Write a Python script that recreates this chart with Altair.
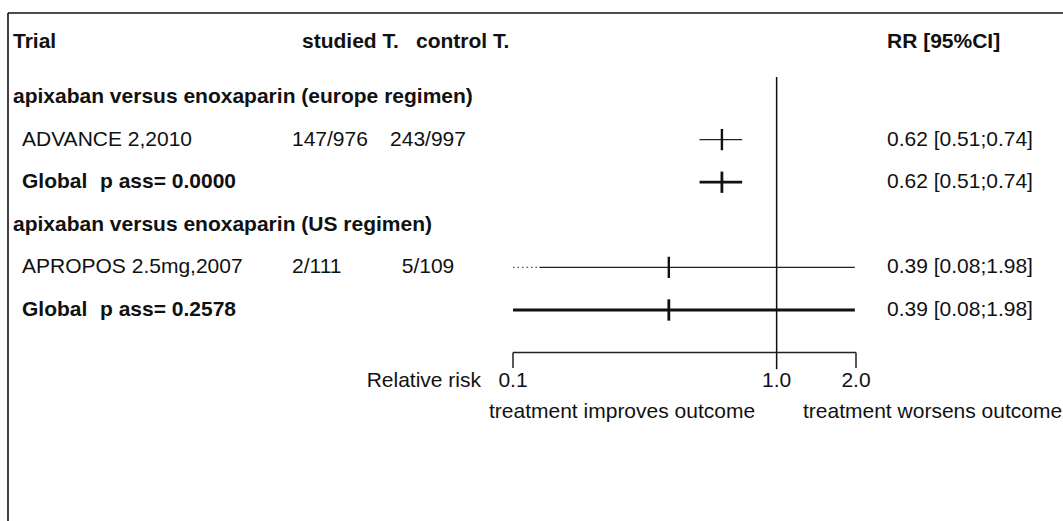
import altair as alt
import pandas as pd

# ---- study data -------------------------------------------------------------
groups = [
    "apixaban versus enoxaparin (europe regimen)",
    "apixaban versus enoxaparin (US regimen)",
]
trials = ["ADVANCE 2,2010", "APROPOS 2.5mg,2007"]
studied = ["147/976", "2/111"]
control = ["243/997", "5/109"]
rr = [0.62, 0.39]
rr_low = [0.51, 0.08]
rr_high = [0.74, 1.98]

global_rr = [0.62, 0.39]
global_low = [0.51, 0.08]
global_high = [0.74, 1.98]
p_assoc = ["0.0000", "0.2578"]

axis_ticks = [0.1, 1.0, 2.0]
axis_tick_labels = ["0.1", "1.0", "2.0"]
x_min, x_max = 0.1, 2.0
tail_end = 0.126  # dotted tail marking a CI cut at the axis limit

# ---- layout -----------------------------------------------------------------
W, H = 1063, 521
FONT = "Liberation Sans"
FS = 21
INK = "#111111"

xs = alt.Scale(type="log", domain=[x_min, x_max], range=[513, 856])
ys = alt.Scale(type="linear", domain=[0, 10], range=[54.4, 480.4])

HEADER_ROW = -0.29
AXIS_ROW = 7.0
TICKLABEL_ROW = 7.67
CAPTION_ROW = 8.39


def fmt_ci(m, lo, hi):
    return f"{m:.2f} [{lo:.2f};{hi:.2f}]"


trial_rows, global_rows, group_rows = [], [], []
for g, name in enumerate(groups):
    base = 1 + 3 * g
    group_rows.append({"row": base, "label": name})
    lo_c = max(rr_low[g], x_min)
    trial_rows.append({
        "row": base + 1,
        "trial": trials[g],
        "studied": studied[g],
        "control": control[g],
        "rr": rr[g],
        "lo": tail_end if rr_low[g] < x_min else lo_c,
        "hi": min(rr_high[g], x_max),
        "clipped": rr_low[g] < x_min,
        "ci": fmt_ci(rr[g], rr_low[g], rr_high[g]),
        "t0": base + 1 - 0.25,
        "t1": base + 1 + 0.25,
    })
    global_rows.append({
        "row": base + 2,
        "label": "Global",
        "p": f"p ass= {p_assoc[g]}",
        "rr": global_rr[g],
        "lo": max(global_low[g], x_min),
        "hi": min(global_high[g], x_max),
        "ci": fmt_ci(global_rr[g], global_low[g], global_high[g]),
        "t0": base + 2 - 0.25,
        "t1": base + 2 + 0.25,
    })

trial_df = pd.DataFrame(trial_rows)
global_df = pd.DataFrame(global_rows)
group_df = pd.DataFrame(group_rows)
tail_df = trial_df[trial_df["clipped"]].assign(t_start=x_min)
header_df = pd.DataFrame({"row": [HEADER_ROW]})
axis_df = pd.DataFrame({"v": axis_ticks, "lab": axis_tick_labels,
                        "row": AXIS_ROW, "row2": AXIS_ROW + 0.36,
                        "lrow": TICKLABEL_ROW})
ends_df = axis_df[axis_df["v"] != 1.0]
axis_line_df = pd.DataFrame({"a": [x_min], "b": [x_max], "row": [AXIS_ROW]})
ref_df = pd.DataFrame({"v": [1.0], "r0": [0.53], "r1": [7.39]})


def text_layer(df, field, x, align="left", bold=False, row_field="row"):
    return alt.Chart(df).mark_text(
        align=align, baseline="middle", font=FONT, fontSize=FS,
        fontWeight="bold" if bold else "normal", color=INK,
    ).encode(
        x=alt.value(x),
        y=alt.Y(f"{row_field}:Q", scale=ys, axis=None),
        text=alt.Text(f"{field}:N"),
    )


def const_text(label, x, row, align="left", bold=False):
    return alt.Chart(pd.DataFrame({"row": [row], "t": [label]})).mark_text(
        align=align, baseline="middle", font=FONT, fontSize=FS,
        fontWeight="bold" if bold else "normal", color=INK,
    ).encode(
        x=alt.value(x),
        y=alt.Y("row:Q", scale=ys, axis=None),
        text="t:N",
    )


# frame around the figure
frame_top = alt.Chart(header_df).mark_rule(color=INK, strokeWidth=1.6).encode(
    x=alt.value(8), x2=alt.value(W), y=alt.value(13))
frame_left = alt.Chart(header_df).mark_rule(color=INK, strokeWidth=1.6).encode(
    x=alt.value(8), y=alt.value(13), y2=alt.value(H))

headers = [
    const_text("Trial", 13, HEADER_ROW, bold=True),
    const_text("studied T.", 302, HEADER_ROW, bold=True),
    const_text("control T.", 416, HEADER_ROW, bold=True),
    const_text("RR [95%CI]", 887, HEADER_ROW, bold=True),
]

group_text = text_layer(group_df, "label", 13, bold=True)
trial_name = text_layer(trial_df, "trial", 22)
trial_st = text_layer(trial_df, "studied", 292)
trial_ct = text_layer(trial_df, "control", 428, align="center")
trial_ci = text_layer(trial_df, "ci", 887)
glob_name = text_layer(global_df, "label", 22, bold=True)
glob_p = text_layer(global_df, "p", 100, bold=True)
glob_ci = text_layer(global_df, "ci", 887)

ref_line = alt.Chart(ref_df).mark_rule(color=INK, strokeWidth=1.5).encode(
    x=alt.X("v:Q", scale=xs, axis=None),
    y=alt.Y("r0:Q", scale=ys, axis=None), y2="r1:Q")

trial_ci_line = alt.Chart(trial_df).mark_rule(color="#222222", strokeWidth=1.4).encode(
    x=alt.X("lo:Q", scale=xs, axis=None), x2="hi:Q",
    y=alt.Y("row:Q", scale=ys, axis=None))
trial_tail = alt.Chart(tail_df).mark_rule(
    color="#555555", strokeWidth=1.2, strokeDash=[1.5, 3]).encode(
    x=alt.X("t_start:Q", scale=xs, axis=None), x2="lo:Q",
    y=alt.Y("row:Q", scale=ys, axis=None))
trial_tick = alt.Chart(trial_df).mark_rule(color=INK, strokeWidth=2.4).encode(
    x=alt.X("rr:Q", scale=xs, axis=None),
    y=alt.Y("t0:Q", scale=ys, axis=None), y2="t1:Q")

glob_line = alt.Chart(global_df).mark_rule(color=INK, strokeWidth=2.8).encode(
    x=alt.X("lo:Q", scale=xs, axis=None), x2="hi:Q",
    y=alt.Y("row:Q", scale=ys, axis=None))
glob_tick = alt.Chart(global_df).mark_rule(color=INK, strokeWidth=2.8).encode(
    x=alt.X("rr:Q", scale=xs, axis=None),
    y=alt.Y("t0:Q", scale=ys, axis=None), y2="t1:Q")

# relative-risk axis
axis_line = alt.Chart(axis_line_df).mark_rule(color="#222222", strokeWidth=1.5).encode(
    x=alt.X("a:Q", scale=xs, axis=None), x2="b:Q",
    y=alt.Y("row:Q", scale=ys, axis=None))
axis_ends = alt.Chart(ends_df).mark_rule(color="#222222", strokeWidth=1.5).encode(
    x=alt.X("v:Q", scale=xs, axis=None),
    y=alt.Y("row:Q", scale=ys, axis=None), y2="row2:Q")
axis_labels = alt.Chart(axis_df).mark_text(
    align="center", baseline="middle", font=FONT, fontSize=FS, color=INK).encode(
    x=alt.X("v:Q", scale=xs, axis=None),
    y=alt.Y("lrow:Q", scale=ys, axis=None),
    text="lab:N")

captions = [
    const_text("Relative risk", 481, TICKLABEL_ROW, align="right"),
    const_text("treatment improves outcome", 489, CAPTION_ROW),
    const_text("treatment worsens outcome", 803, CAPTION_ROW),
]

chart = alt.layer(
    frame_top, frame_left, *headers,
    group_text, trial_name, trial_st, trial_ct, trial_ci,
    glob_name, glob_p, glob_ci,
    ref_line, trial_tail, trial_ci_line, glob_line, trial_tick, glob_tick,
    axis_line, axis_ends, axis_labels, *captions,
).properties(
    width=W, height=H,
    autosize=alt.AutoSizeParams(type="none"),
    padding=0,
    background="white",
).configure_view(strokeWidth=0)

chart.save("out.html", embed_options={"renderer": "svg", "actions": False})
